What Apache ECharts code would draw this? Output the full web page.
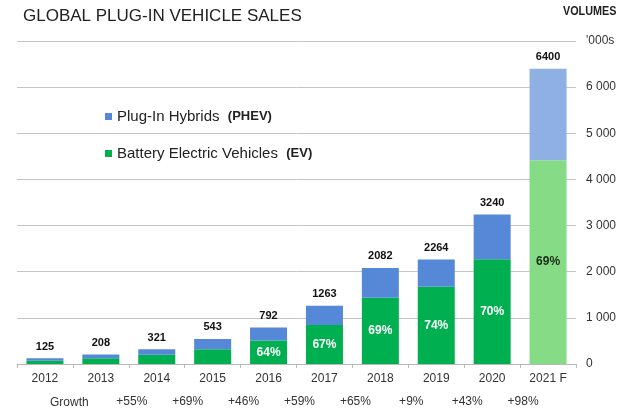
<!DOCTYPE html>
<html><head><meta charset="utf-8">
<script src="https://cdn.jsdelivr.net/npm/echarts@6/dist/echarts.min.js"></script>
<style>html,body{margin:0;padding:0;background:#fff}#c{width:643px;height:412px}</style>
</head><body><div id="c"></div>
<script>
const years = ['2012','2013','2014','2015','2016','2017','2018','2019','2020','2021 F'];
const totals = [125,208,321,543,792,1263,2082,2264,3240,6400];
const ev = [68,125,199,320,507,846,1437,1675,2268,4416];
const phev = [57,83,122,223,285,417,645,589,972,1984];
const evShare = ['','','','','64%','67%','69%','74%','70%','69%'];
const growth = ['','','+55%','+69%','+46%','+59%','+65%','+9%','+43%','+98%',''];
const yTicks = [0,1000,2000,3000,4000,5000,6000,7000];

const FONT = 'Liberation Sans, Arial, sans-serif';
const GREEN = '#00b050', BLUE = '#5588d6', LGREEN = '#86dc86', LBLUE = '#8eb0e2';
const last = years.length - 1;

const chart = echarts.init(document.getElementById('c'), null, {renderer:'canvas'});
chart.setOption({
  animation: false,
  textStyle: {fontFamily: FONT},
  title: [
    {text: 'GLOBAL PLUG-IN VEHICLE SALES', left: 18, top: 3, padding: 5,
     textStyle: {fontFamily: FONT, fontSize: 17, fontWeight: 'normal', color: '#222'}}
  ],
  legend: {
    orient: 'vertical', left: 105, top: 109, padding: 0, itemWidth: 7, itemHeight: 7, itemGap: 22,
    icon: 'rect',
    data: ['Plug-In Hybrids', 'Battery Electric Vehicles'],
    formatter: function(n){
      return n === 'Plug-In Hybrids' ? n + '  {b|(PHEV)}' : n + '  {b|(EV)}';
    },
    textStyle: {fontFamily: FONT, fontSize: 15, color: '#222',
      rich: {b: {fontFamily: FONT, fontSize: 13, fontWeight: 'bold', color: '#222'}}}
  },
  grid: {left: 17, right: 67, top: 41, bottom: 48},
  xAxis: [
    {type: 'category', data: years, position: 'bottom',
     axisLine: {lineStyle: {color: '#b8b8b8'}},
     axisTick: {show: true, length: 4, lineStyle: {color: '#b8b8b8'}},
     axisLabel: {color: '#333', fontSize: 12, margin: 9, interval: 0}},
    {type: 'category', data: growth, position: 'bottom', offset: 24, boundaryGap: false,
     axisLine: {show: false}, axisTick: {show: false},
     axisLabel: {color: '#333', fontSize: 12, margin: 8, interval: 0, padding: [0,0,0,6]}}
  ],
  yAxis: {
    type: 'value', position: 'right', min: 0, max: 7000, interval: 1000,
    axisLine: {show: false}, axisTick: {show: false},
    splitLine: {lineStyle: {color: '#c4c4c4', width: 1}},
    axisLabel: {color: '#333', fontSize: 12, margin: 10,
      formatter: function(v){
        if (v === yTicks[yTicks.length-1]) return "'000s";
        return v >= 1000 ? Math.floor(v/1000) + ' ' + String(v%1000).padStart(3,'0') : String(v);
      }}
  },
  graphic: [
    {type: 'text', x: 563, y: 5, scaleX: 0.83,
     style: {text: 'VOLUMES', fontFamily: FONT, fontSize: 13, fontWeight: 'bold', fill: '#222'}},
    {type: 'text', left: 50, top: 397, style: {text: 'Growth', fontFamily: FONT, fontSize: 12, fill: '#333'}}
  ],
  series: [
    {name: 'Battery Electric Vehicles', type: 'bar', stack: 'a', barWidth: 37,
     itemStyle: {color: GREEN},
     data: ev.map((v,i) => i === last ? {value: v, itemStyle: {color: LGREEN}, label: {color: '#1b2b1b'}} : v),
     label: {show: true, position: 'inside', fontFamily: FONT, fontSize: 12, fontWeight: 'bold', color: '#fff',
       formatter: p => evShare[p.dataIndex]}},
    {name: 'Plug-In Hybrids', type: 'bar', stack: 'a', barWidth: 37,
     itemStyle: {color: BLUE},
     data: phev.map((v,i) => i === last ? {value: v, itemStyle: {color: LBLUE}} : v),
     label: {show: true, position: 'top', distance: 6, fontFamily: FONT, fontSize: 11, fontWeight: 'bold', color: '#111',
       formatter: p => String(totals[p.dataIndex])}}
  ]
});
</script></body></html>
